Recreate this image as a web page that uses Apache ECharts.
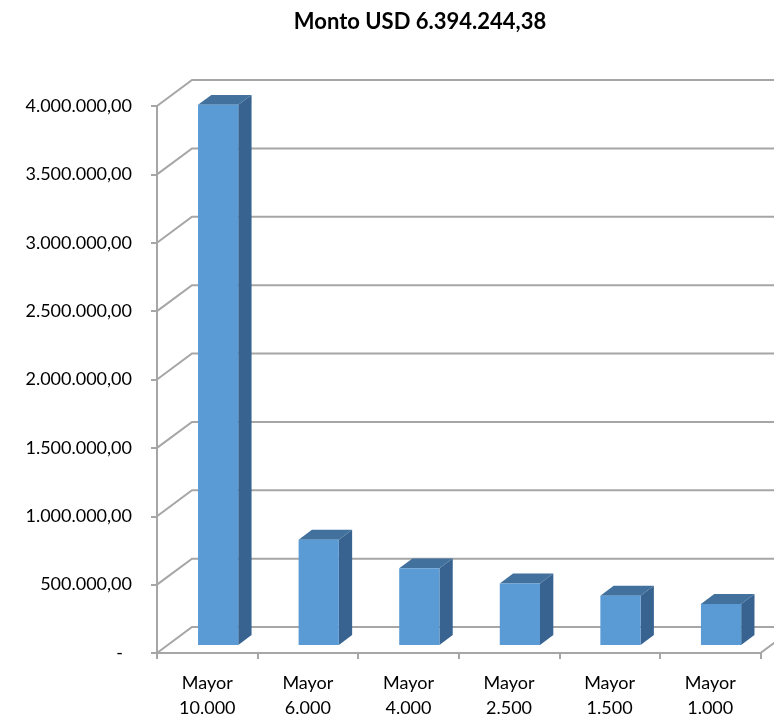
<!DOCTYPE html>
<html>
<head>
<meta charset="utf-8">
<script src="https://cdn.jsdelivr.net/npm/echarts@6/dist/echarts.min.js"></script>
<style>
html,body{margin:0;padding:0;background:#fff;}
#c{width:774px;height:721px;}
</style>
</head>
<body>
<div id="c"></div>
<script>
var titleText = 'Monto USD 6.394.244,38';
var categories = ['Mayor\n10.000', 'Mayor\n6.000', 'Mayor\n4.000', 'Mayor\n2.500', 'Mayor\n1.500', 'Mayor\n1.000'];
var values = [3950000, 770000, 560000, 450000, 360000, 300000];
var yTicks = [0, 500000, 1000000, 1500000, 2000000, 2500000, 3000000, 3500000, 4000000];

var FONT = 'Lato';
var GRID_COLOR = '#A6A6A6';
var WALL_DX = 35, WALL_DY = 26;       // back-wall offset
var BAR_FRONT = 0.31;                  // bar front plane depth fraction
var BAR_DEPTH = 0.38;                  // bar depth fraction
var FRONT_COLOR = '#5B9BD5', TOP_COLOR = '#41719C', SIDE_COLOR = '#386390';

function fmt(v) {
  if (v === 0) return '{d|-}';
  var s = String(Math.round(v));
  var out = '';
  while (s.length > 3) { out = '.' + s.slice(-3) + out; s = s.slice(0, -3); }
  return s + out + ',00';
}

var chart = echarts.init(document.getElementById('c'), null, {renderer: 'canvas'});
chart.setOption({
  backgroundColor: '#ffffff',
  animation: false,
  title: {
    text: titleText,
    left: 415, top: 6, textAlign: 'center',
    textStyle: {fontFamily: FONT, fontWeight: 'bold', fontSize: 22, color: '#000'}
  },
  grid: {left: 157, right: 13.5, top: 106, bottom: 62.5, containLabel: false},
  xAxis: {
    type: 'category',
    data: categories,
    axisLine: {show: true, lineStyle: {color: GRID_COLOR, width: 2}},
    axisTick: {show: true, length: 6, lineStyle: {color: GRID_COLOR, width: 2}},
    axisLabel: {fontFamily: FONT, fontSize: 18, color: '#000', margin: 18, lineHeight: 25, interval: 0},
    splitLine: {show: false}
  },
  yAxis: {
    type: 'value',
    min: 0, max: 4000000, interval: 500000,
    axisLine: {show: true, lineStyle: {color: GRID_COLOR, width: 2}},
    axisTick: {show: true, length: 6, lineStyle: {color: GRID_COLOR, width: 2}},
    axisLabel: {
      fontFamily: FONT, fontSize: 18, color: '#000', margin: 25,
      formatter: fmt,
      rich: {d: {fontFamily: FONT, fontSize: 18, color: '#000', padding: [0, 9, 0, 0]}}
    },
    splitLine: {show: false}
  },
  series: [
    {
      type: 'custom',
      z: 1,
      silent: true,
      clip: false,
      data: yTicks.map(function (v) { return [0, v]; }),
      encode: {x: 0, y: 1},
      renderItem: function (params, api) {
        var cs = params.coordSys;
        var v = api.value(1);
        var y = api.coord([0, v])[1];
        var x0 = cs.x;
        var children = [{
          type: 'polyline',
          shape: {points: [[x0, y], [x0 + WALL_DX, y - WALL_DY], [900, y - WALL_DY]]},
          style: {stroke: GRID_COLOR, lineWidth: 2, fill: null}
        }];
        if (v === 0) {
          var xr = cs.x + cs.width;
          children.push({
            type: 'line',
            shape: {x1: xr, y1: y, x2: xr + WALL_DX, y2: y - WALL_DY},
            style: {stroke: GRID_COLOR, lineWidth: 2}
          });
        }
        return {type: 'group', children: children};
      }
    },
    {
      type: 'custom',
      z: 3,
      clip: false,
      data: values.map(function (v, i) { return [i, v]; }),
      encode: {x: 0, y: 1},
      renderItem: function (params, api) {
        var i = api.value(0), v = api.value(1);
        var top = api.coord([i, v]);
        var base = api.coord([i, 0]);
        var bw = api.size([1, 0])[0] * 0.4;
        var fx = BAR_FRONT * WALL_DX, fy = BAR_FRONT * WALL_DY;
        var dx = BAR_DEPTH * WALL_DX, dy = BAR_DEPTH * WALL_DY;
        var xl = top[0] - bw / 2 + fx, xr = top[0] + bw / 2 + fx;
        var yt = top[1] - fy, yb = base[1] - fy;
        return {
          type: 'group',
          children: [
            {type: 'polygon', shape: {points: [[xr, yt], [xr + dx, yt - dy], [xr + dx, yb - dy], [xr, yb]]},
             style: {fill: SIDE_COLOR}},
            {type: 'polygon', shape: {points: [[xl, yt], [xl + dx, yt - dy], [xr + dx, yt - dy], [xr, yt]]},
             style: {fill: TOP_COLOR}},
            {type: 'rect', shape: {x: xl, y: yt, width: xr - xl, height: yb - yt},
             style: {fill: FRONT_COLOR}}
          ]
        };
      }
    }
  ]
});
</script>
</body>
</html>
